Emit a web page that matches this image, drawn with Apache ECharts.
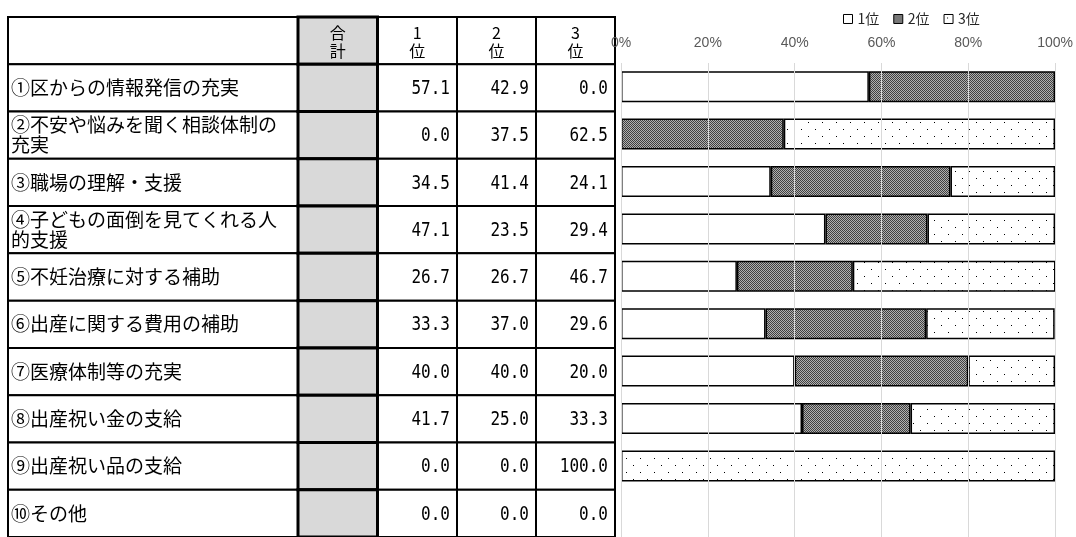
<!DOCTYPE html>
<html>
<head>
<meta charset="utf-8">
<script src="https://cdn.jsdelivr.net/npm/echarts@6.0.0/dist/echarts.min.js"></script>
<style>
html, body { margin: 0; padding: 0; background: #fff; }
#chart { width: 1076px; height: 537px; }
</style>
</head>
<body>
<div id="chart"></div>
<script>
// データ
var categories = [
    '①区からの情報発信の充実',
    '②不安や悩みを聞く相談体制の充実',
    '③職場の理解・支援',
    '④子どもの面倒を見てくれる人的支援',
    '⑤不妊治療に対する補助',
    '⑥出産に関する費用の補助',
    '⑦医療体制等の充実',
    '⑧出産祝い金の支給',
    '⑨出産祝い品の支給',
    '⑩その他'
];
var seriesNames = ['1位', '2位', '3位'];
var rank1 = [57.1, 0.0, 34.5, 47.1, 26.7, 33.3, 40.0, 41.7, 0.0, 0.0];
var rank2 = [42.9, 37.5, 41.4, 23.5, 26.7, 37.0, 40.0, 25.0, 0.0, 0.0];
var rank3 = [0.0, 62.5, 24.1, 29.4, 46.7, 29.6, 20.0, 33.3, 100.0, 0.0];
var headers = ['', '合\n計', '1\n位', '2\n位', '3\n位'];

var dom = document.getElementById('chart');
var myChart = echarts.init(dom, null, { renderer: 'canvas' });

// 塗りつぶしパターン
function makePattern(size, draw) {
    var c = document.createElement('canvas');
    c.width = size;
    c.height = size;
    draw(c.getContext('2d'), size);
    return { image: c, repeat: 'repeat' };
}
var darkPattern = makePattern(2, function (ctx) {
    ctx.fillStyle = '#b0b0b0';
    ctx.fillRect(0, 0, 2, 2);
    ctx.fillStyle = '#404040';
    ctx.fillRect(0, 0, 1, 1);
    ctx.fillRect(1, 1, 1, 1);
});
var dotPattern = makePattern(14, function (ctx, s) {
    ctx.fillStyle = '#fff';
    ctx.fillRect(0, 0, s, s);
    ctx.fillStyle = '#000';
    ctx.fillRect(3, 3, 1, 1);
    ctx.fillRect(10, 10, 1, 1);
});

// 表の列の区切り（表グリッド内のピクセル）
var colEdges = [0, 290, 369.5, 449, 528, 607];
var rankValues = [rank1, rank2, rank3];

function renderTableRow(params, api) {
    var row = api.value(1);
    var p = api.coord([0, row]);
    var h = api.size([0, 1])[1];
    var top = p[1] - h / 2;
    var children = [];
    for (var c = 0; c < 5; c++) {
        var l = p[0] + colEdges[c];
        var r = p[0] + colEdges[c + 1];
        children.push({
            type: 'rect',
            z2: c === 1 ? 5 : 1,
            shape: { x: l, y: top, width: r - l, height: h },
            style: {
                fill: c === 1 ? '#d9d9d9' : '#fff',
                stroke: '#000',
                lineWidth: c === 1 ? 3 : 2
            }
        });
        var el = null;
        if (row === 0) {
            el = { style: {
                text: headers[c], x: (l + r) / 2, y: top + h / 2 + 1,
                align: 'center', verticalAlign: 'middle',
                font: '16px "Noto Sans CJK JP"', lineHeight: 18
            } };
        } else if (c === 0) {
            el = { style: {
                text: categories[row - 1], x: l + 3, y: top + h / 2,
                align: 'left', verticalAlign: 'middle',
                font: '19px "Noto Sans CJK JP"', lineHeight: 20,
                width: 268, overflow: 'break'
            } };
        } else if (c >= 2) {
            var ty = top + h / 2 + 1;
            el = {
                originX: r - 7, originY: ty, scaleY: 1.25,
                style: {
                    text: rankValues[c - 2][row - 1].toFixed(1), x: r - 7, y: ty,
                    align: 'right', verticalAlign: 'middle',
                    font: '16px "DejaVu Sans Mono"'
                }
            };
        }
        if (el) {
            el.type = 'text';
            el.z2 = 10;
            el.style.fill = '#000';
            children.push(el);
        }
    }
    return { type: 'group', children: children };
}

var tableRows = [];
for (var i = 0; i <= categories.length; i++) {
    tableRows.push([0, i]);
}

function barData(arr) {
    return arr.map(function (v) { return v === 0 ? '-' : v; });
}

var barStyle = { borderColor: '#000', borderWidth: 1.5 };

var option = {
    backgroundColor: '#fff',
    animation: false,
    legend: {
        data: seriesNames,
        left: 838,
        top: 7,
        icon: 'rect',
        itemWidth: 9,
        itemHeight: 9,
        itemGap: 14,
        textStyle: { fontSize: 14, color: '#262626', fontFamily: 'Noto Sans CJK JP' },
        itemStyle: { borderWidth: 1 }
    },
    grid: [
        { left: 621, right: 20, top: 63, height: 476 },
        { left: 8, top: 17, width: 607, height: 523.6 }
    ],
    xAxis: [
        {
            type: 'value',
            position: 'top',
            min: 0,
            max: 100,
            interval: 20,
            z: 5,
            axisLine: { show: false },
            axisTick: { show: false },
            splitLine: { lineStyle: { color: '#d9d9d9', width: 1 } },
            axisLabel: {
                formatter: '{value}%',
                color: '#595959',
                fontSize: 14,
                fontFamily: 'Liberation Sans',
                margin: 13
            }
        },
        { type: 'value', gridIndex: 1, min: 0, max: 607, show: false }
    ],
    yAxis: [
        {
            type: 'category',
            data: categories,
            inverse: true,
            show: false
        },
        {
            type: 'category',
            gridIndex: 1,
            data: [''].concat(categories),
            inverse: true,
            show: false
        }
    ],
    series: [
        {
            name: seriesNames[0], type: 'bar', stack: 'rank', barWidth: 31,
            itemStyle: Object.assign({ color: '#fff' }, barStyle),
            data: barData(rank1)
        },
        {
            name: seriesNames[1], type: 'bar', stack: 'rank', barWidth: 31,
            itemStyle: Object.assign({ color: darkPattern }, barStyle),
            data: barData(rank2)
        },
        {
            name: seriesNames[2], type: 'bar', stack: 'rank', barWidth: 31,
            itemStyle: Object.assign({ color: dotPattern }, barStyle),
            data: barData(rank3)
        },
        {
            name: 'table', type: 'custom',
            xAxisIndex: 1, yAxisIndex: 1,
            z: 1,
            renderItem: renderTableRow,
            data: tableRows,
            silent: true
        }
    ]
};

myChart.setOption(option);
</script>
</body>
</html>
